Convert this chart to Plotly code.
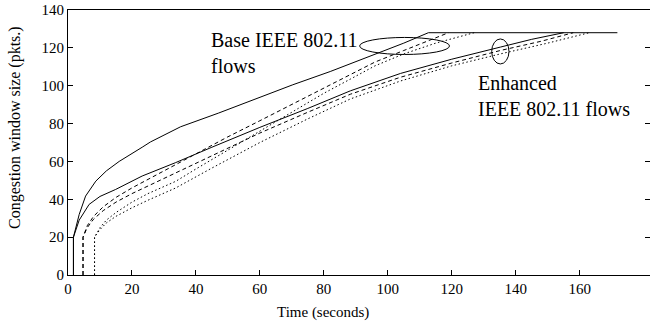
import plotly.graph_objects as go

# ---- data (time in s, congestion window in packets) ----
# Base IEEE 802.11 flows
base_solid_t = [1.7, 1.7, 3.5, 5.5, 8.7, 12, 16, 20, 23.2, 25.8, 35.2, 47, 58.7, 70.3, 82, 88.3, 93.6, 105, 112.7, 171.8]
base_solid_w = [0, 20, 32, 41.7, 49.6, 55, 60, 64, 67.5, 70.3, 78.3, 85.5, 93, 100.5, 107.5, 111.5, 115.2, 122.5, 128, 128]

base_dash_t = [4.7, 4.7, 6, 8, 11, 15, 20, 25, 33.7, 40, 50, 60, 70, 80, 88.3, 96, 105, 112, 119]
base_dash_w = [0, 20, 26, 31, 36, 41, 46, 50.5, 58, 64, 73, 81.5, 90, 98.5, 106, 112.5, 118.6, 123.5, 128]

base_dot_t = [8.3, 8.3, 10, 12, 15, 20, 25, 33.7, 40, 50, 60, 70, 80, 88.3, 96, 105, 115, 127]
base_dot_w = [0, 20, 25, 29, 33, 38.5, 43, 49.5, 56, 66, 76, 86, 96, 103.5, 110.5, 116.8, 122.5, 128]

# Enhanced IEEE 802.11 flows
enh_solid_t = [1.7, 1.7, 3.5, 6.6, 10, 14.9, 23.2, 33.7, 45, 60, 75, 88.3, 104, 120, 135.2, 145, 155]
enh_solid_w = [0, 20, 29, 37.3, 41.5, 45.2, 52.3, 59.4, 67.5, 78, 88, 97.3, 106.5, 114, 120.4, 124.5, 128]

enh_dash_t = [4.7, 4.7, 6, 8, 11, 15, 20, 25, 33.7, 45, 60, 75, 88.3, 104, 120, 135.2, 148, 158]
enh_dash_w = [0, 20, 25, 29.5, 34, 38.5, 43, 47, 54, 63, 75, 86, 95.5, 104.5, 112, 118.6, 123.5, 128]

enh_dot_t = [8.3, 8.3, 10, 12, 15, 20, 25, 33.7, 45, 60, 75, 88.3, 104, 120, 135.2, 150, 163]
enh_dot_w = [0, 20, 24, 27.5, 31, 35.5, 39.5, 46, 56.5, 70, 82.5, 93, 102.5, 110.5, 116.8, 122.5, 128]

x_ticks = [0, 20, 40, 60, 80, 100, 120, 140, 160]
y_ticks = [0, 20, 40, 60, 80, 100, 120, 140]

FONT = "Liberation Serif, Times New Roman, serif"

series = [
    (base_solid_t, base_solid_w, "solid", "Base solid"),
    (base_dash_t, base_dash_w, "4px,3px", "Base dashed"),
    (base_dot_t, base_dot_w, "1.5px,2.5px", "Base dotted"),
    (enh_solid_t, enh_solid_w, "solid", "Enhanced solid"),
    (enh_dash_t, enh_dash_w, "4px,3px", "Enhanced dashed"),
    (enh_dot_t, enh_dot_w, "1.5px,2.5px", "Enhanced dotted"),
]

fig = go.Figure()
for t, w, dash, name in series:
    fig.add_trace(go.Scatter(x=t, y=w, mode="lines", name=name,
                             line=dict(color="black", width=1, dash=dash),
                             showlegend=False, hoverinfo="skip"))

# dummy trace so the right-side tick axis renders
fig.add_trace(go.Scatter(x=[None], y=[None], yaxis="y2", showlegend=False, hoverinfo="skip"))

fig.update_layout(
    width=650, height=322,
    margin=dict(l=68, r=0, t=10, b=47),
    paper_bgcolor="white", plot_bgcolor="white",
    font=dict(family=FONT, size=15, color="black"),
    xaxis=dict(range=[0, 182], tickvals=x_ticks, ticks="inside", ticklen=5,
               tickcolor="black", showline=True, mirror=True, linecolor="black",
               linewidth=1, showgrid=False, zeroline=False,
               tickfont=dict(family=FONT, size=15)),
    yaxis=dict(range=[0, 140], tickvals=y_ticks, ticks="inside", ticklen=5,
               tickcolor="black", showline=True, linecolor="black", linewidth=1,
               showgrid=False, zeroline=False, tickfont=dict(family=FONT, size=15)),
    yaxis2=dict(range=[0, 140], tickvals=y_ticks, overlaying="y", side="right",
                ticks="inside", ticklen=5, tickcolor="black", showticklabels=False,
                showline=False, showgrid=False, zeroline=False),
)

# axis titles
fig.add_annotation(text="Time (seconds)", xref="paper", yref="paper",
                   x=(323 - 68) / 582, y=(275 - 312) / 265, showarrow=False,
                   xanchor="center", yanchor="middle", font=dict(family=FONT, size=15))
fig.add_annotation(text="Congestion window size (pkts.)", xref="paper", yref="paper",
                   x=(15 - 68) / 582, y=(275 - 128) / 265, showarrow=False, textangle=-90,
                   xanchor="center", yanchor="middle", font=dict(family=FONT, size=16))

# in-plot labels
fig.add_annotation(text="Base IEEE 802.11<br>flows", x=44.0, y=117.1, xref="x", yref="y",
                   showarrow=False, xanchor="left", yanchor="middle", align="left",
                   font=dict(family=FONT, size=20))
fig.add_annotation(text="Enhanced<br>IEEE 802.11 flows", x=127.7, y=94.8, xref="x", yref="y",
                   showarrow=False, xanchor="left", yanchor="middle", align="left",
                   font=dict(family=FONT, size=20))

# ellipses
fig.add_shape(type="circle", xref="x", yref="y", x0=91.2, x1=119.3, y0=116.5, y1=125.5,
              line=dict(color="black", width=1))
fig.add_shape(type="circle", xref="x", yref="y", x0=132.5, x1=137.9, y0=111.5, y1=124.7,
              line=dict(color="black", width=1))

fig.write_html("out.html")
